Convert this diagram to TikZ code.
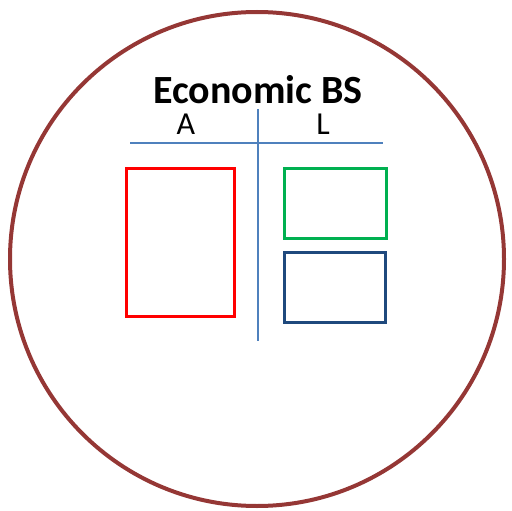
\documentclass[tikz,border=0pt]{standalone}
\usepackage{fontspec}
\setmainfont{Carlito}
\usetikzlibrary{positioning}

\begin{document}
\begin{tikzpicture}[
    x=1pt, y=-1pt,
    ring/.style={draw=ringred, line width=4pt},
    tline/.style={draw=tblue, line width=2pt},
    acct/.style={rectangle, line width=2.7pt, inner sep=0pt, anchor=north west},
    lbl/.style={font=\fontsize{32}{32}\selectfont, inner sep=0pt, anchor=base}
]
\definecolor{ringred}{HTML}{953735}
\definecolor{tblue}{HTML}{4F81BD}
\definecolor{liabgreen}{HTML}{00B050}
\definecolor{eqnavy}{HTML}{1F497D}

\useasboundingbox (0,0) rectangle (512,511);

% Outer circle
\draw[ring] (257,259) circle (247);

% Title and column headings
\node[font=\bfseries\fontsize{40}{40}\selectfont, inner sep=0pt, anchor=base]
    (title) at (258,103) {Economic BS};
\node[lbl] (assets) at (186,135) {A};
\node[lbl] (liabs) at (323,135) {L};

% T-account lines
\coordinate (hleft) at (130,143);
\coordinate (hright) at (383,143);
\coordinate (vtop) at (258,109);
\coordinate (vbot) at (258,341);
\draw[tline] (hleft) -- (hright);
\draw[tline] (vtop) -- (vbot);

% Balance sheet boxes
\node[acct, draw=red, minimum width=108pt, minimum height=148pt]
    (assetbox) at (125,167) {};
\node[acct, draw=liabgreen, minimum width=102pt, minimum height=70pt]
    (liabbox) at (283,167) {};
\node[acct, draw=eqnavy, minimum width=101pt, minimum height=70pt]
    (eqbox) at (283,251) {};

\end{tikzpicture}
\end{document}
